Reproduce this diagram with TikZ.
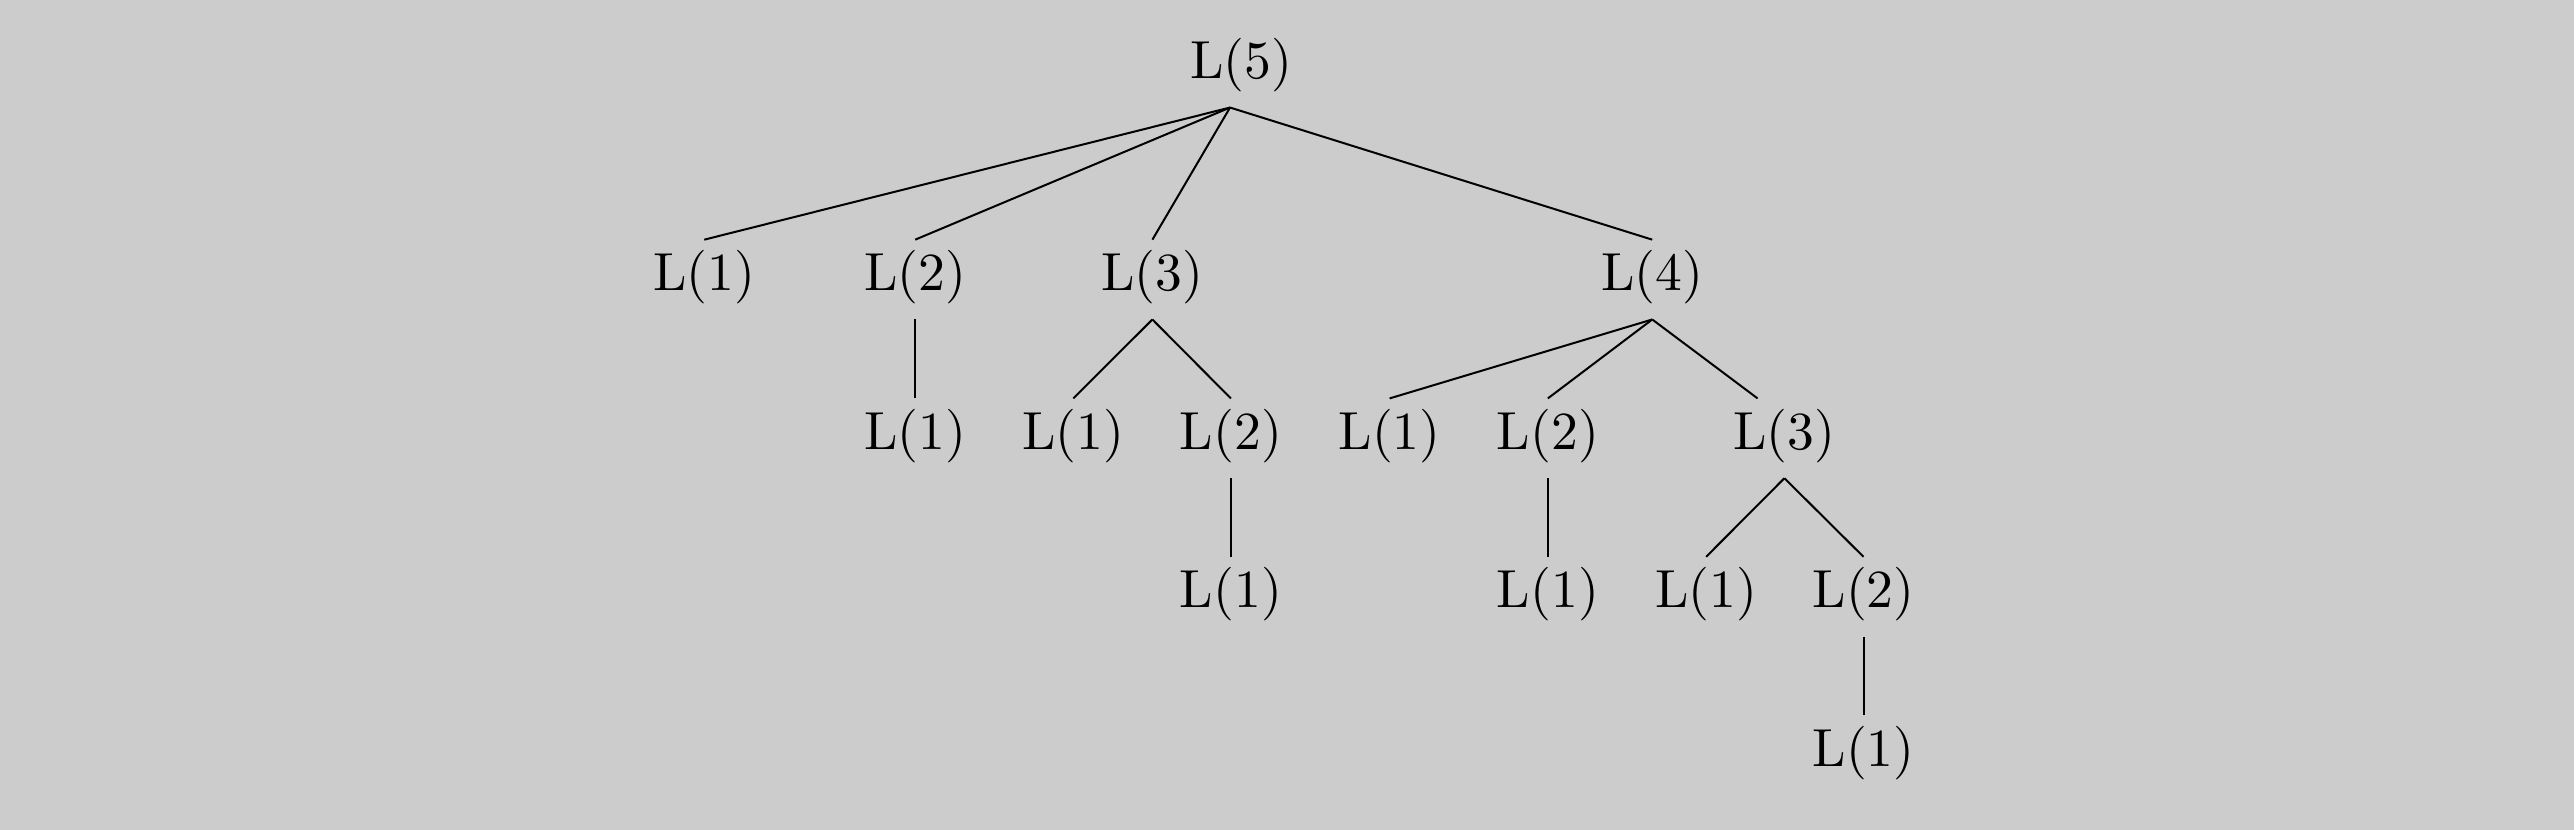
\documentclass[tikz,border=0pt]{standalone}
\usepackage{fontspec}
\newfontfamily\tenfont{lmroman10-regular}[Extension=.otf]
\definecolor{bgc}{HTML}{CCCCCC}
\begin{document}
\begin{tikzpicture}[x=0.8208pt,y=-0.8208pt,
  lbl/.style={inner xsep=0pt, inner ysep=5.2pt, font=\tenfont\fontsize{26.8}{32}\selectfont},
  edge/.style={line width=1pt}]
\fill[bgc] (0,0) rectangle (1568,505.6);
\node[lbl] (r) at (756,39.8) {L(5)};
\node[lbl] (a1) at (429,168.9) {L(1)};
\node[lbl] (a2) at (557.5,168.9) {L(2)};
\node[lbl] (a3) at (702,168.9) {L(3)};
\node[lbl] (a4) at (1006.5,168.9) {L(4)};
\node[lbl] (b1) at (557.5,265.6) {L(1)};
\node[lbl] (b2) at (653.8,265.6) {L(1)};
\node[lbl] (b3) at (749.8,265.6) {L(2)};
\node[lbl] (b4) at (846.5,265.6) {L(1)};
\node[lbl] (b5) at (942.9,265.6) {L(2)};
\node[lbl] (b6) at (1087,265.6) {L(3)};
\node[lbl] (c1) at (749.8,362.1) {L(1)};
\node[lbl] (c2) at (942.9,362.1) {L(1)};
\node[lbl] (c3) at (1039.3,362.1) {L(1)};
\node[lbl] (c4) at (1135.2,362.1) {L(2)};
\node[lbl] (d1) at (1135.2,458.6) {L(1)};
% root edges
\foreach \t in {a1,a2,a3,a4}
  \draw[edge] ([xshift=-5.5pt,yshift=-2.3pt]r.south) -- (\t.north);
\draw[edge] ([yshift=-2.3pt]a2.south) -- (b1.north);
\draw[edge] ([yshift=-2.3pt]a3.south) -- (b2.north);
\draw[edge] ([yshift=-2.3pt]a3.south) -- (b3.north);
\draw[edge] ([yshift=-2.3pt]a4.south) -- (b4.north);
\draw[edge] ([yshift=-2.3pt]a4.south) -- (b5.north);
\draw[edge] ([yshift=-2.3pt]a4.south) -- ([xshift=-13.4pt]b6.north);
\draw[edge] ([yshift=-2.3pt]b3.south) -- (c1.north);
\draw[edge] ([yshift=-2.3pt]b5.south) -- (c2.north);
\draw[edge] ([yshift=-2.3pt]b6.south) -- (c3.north);
\draw[edge] ([yshift=-2.3pt]b6.south) -- (c4.north);
\draw[edge] ([yshift=-2.3pt]c4.south) -- (d1.north);
\end{tikzpicture}
\end{document}
